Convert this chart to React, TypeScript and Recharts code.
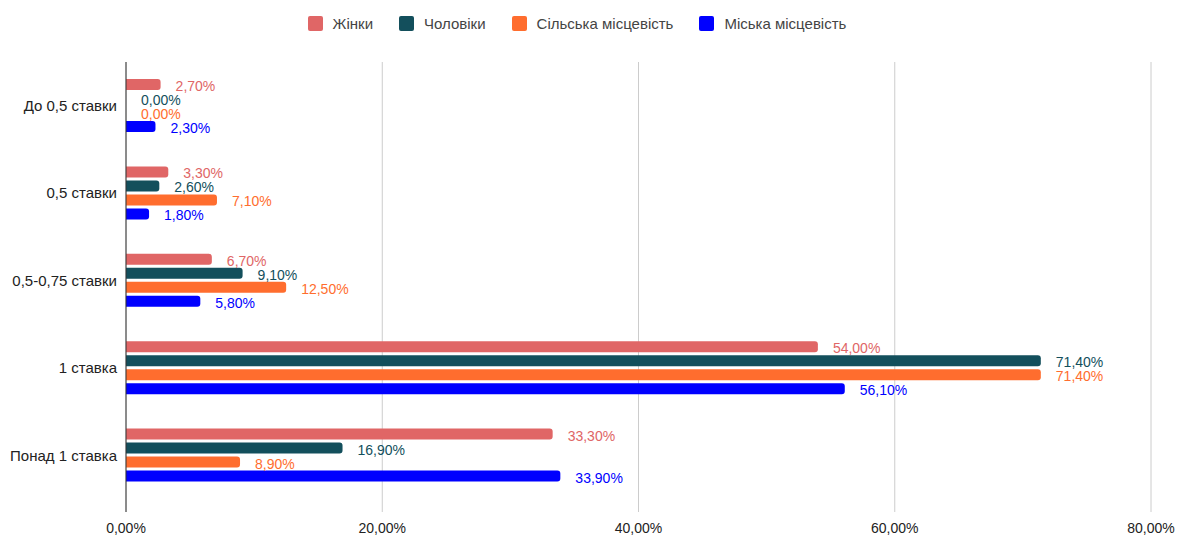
import { BarChart, Bar, XAxis, YAxis, CartesianGrid, Legend, LabelList } from 'recharts';

const categories = ['До 0,5 ставки', '0,5 ставки', '0,5-0,75 ставки', '1 ставка', 'Понад 1 ставка'];
const women = [2.7, 3.3, 6.7, 54.0, 33.3];
const men = [0, 2.6, 9.1, 71.4, 16.9];
const rural = [0, 7.1, 12.5, 71.4, 8.9];
const urban = [2.3, 1.8, 5.8, 56.1, 33.9];
const xTicks = [0, 20, 40, 60, 80];

const SERIES = [
  { key: 'women', name: 'Жінки', color: '#e06666' },
  { key: 'men', name: 'Чоловіки', color: '#134f5c' },
  { key: 'rural', name: 'Сільська місцевість', color: '#ff6d2e' },
  { key: 'urban', name: 'Міська місцевість', color: '#0000ff' },
];

const data = categories.map((name, i) => ({
  name,
  women: women[i],
  men: men[i],
  rural: rural[i],
  urban: urban[i],
}));

const pct = (v: number) => `${v.toFixed(2).replace('.', ',')}%`;
const FONT = '"Liberation Sans", Arial, sans-serif';

function TopLegend() {
  return (
    <div
      style={{
        display: 'flex',
        justifyContent: 'center',
        gap: 26,
        paddingRight: 25,
        fontFamily: FONT,
        fontSize: 15,
        color: '#444',
      }}
    >
      {SERIES.map((s) => (
        <div key={s.key} style={{ display: 'flex', alignItems: 'center' }}>
          <span style={{ width: 15, height: 15, background: s.color, borderRadius: 2, marginRight: 10 }} />
          {s.name}
        </div>
      ))}
    </div>
  );
}

export default function App() {
  return (
    <div style={{ position: 'absolute', left: 0, top: 0, background: '#fff' }}>
      <BarChart
        width={1179}
        height={537}
        data={data}
        layout="vertical"
        margin={{ top: 22, right: 28, left: 0, bottom: 0 }}
        barSize={11}
        barGap={3}
      >
        <CartesianGrid stroke="#cccccc" horizontal={false} />
        <Legend
          verticalAlign="top"
          height={40}
          content={() => <TopLegend />}
          wrapperStyle={{ top: 15, left: 0, width: 1179 }}
        />
        <XAxis
          type="number"
          domain={[0, 80]}
          ticks={xTicks}
          tickFormatter={pct}
          axisLine={false}
          tickLine={false}
          height={25}
          tickMargin={5}
          tick={{ fill: '#222', fontSize: 14, fontFamily: FONT }}
        />
        <YAxis
          type="category"
          dataKey="name"
          width={126}
          tickLine={false}
          axisLine={{ stroke: '#333' }}
          padding={{ top: 0, bottom: 13 }}
          tick={{ fill: '#222', fontSize: 15, fontFamily: FONT }}
          tickMargin={3}
        />
        {SERIES.map((s) => (
          <Bar
            key={s.key}
            dataKey={s.key}
            name={s.name}
            fill={s.color}
            radius={[0, 3, 3, 0]}
            minPointSize={0.01}
            isAnimationActive={false}
          >
            <LabelList
              dataKey={s.key}
              position="right"
              offset={15}
              dy={1.5}
              formatter={(v: number) => pct(v)}
              style={{ fill: s.color, fontSize: 14, fontFamily: FONT }}
            />
          </Bar>
        ))}
      </BarChart>
    </div>
  );
}
